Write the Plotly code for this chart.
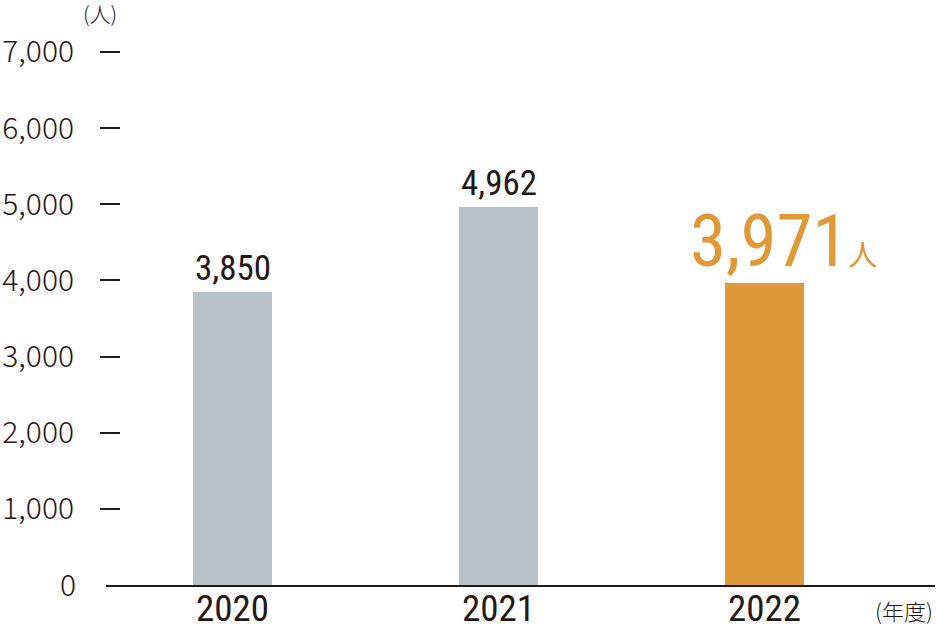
import plotly.graph_objects as go

years = [2020, 2021, 2022]
values = [3850, 4962, 3971]
value_labels = ["3,850", "4,962", "3,971"]
bar_colors = ["#b9c1c8", "#b9c1c8", "#de9835"]
ytick_vals = [1000, 2000, 3000, 4000, 5000, 6000, 7000]
ytick_text = ["1,000", "2,000", "3,000", "4,000", "5,000", "6,000", "7,000"]

TXT = "#231815"
ORANGE = "#de9835"
NUM_FONT = "Roboto Condensed, DejaVu Sans Condensed, Liberation Sans Narrow, Roboto"
JP_FONT = "Noto Sans CJK JP"

W, H = 936, 626
ml, mr, mt, mb = 106, 1, 20, 41
plot_w = W - ml - mr

fig = go.Figure()
fig.add_trace(go.Bar(
    x=years, y=values, width=0.297,
    marker=dict(color=bar_colors, line=dict(width=0)),
    hoverinfo="skip",
))

# value labels
for i, (x, v, t) in enumerate(zip(years, values, value_labels)):
    if i < 2:
        fig.add_annotation(x=x, y=v, text=t, showarrow=False, yanchor="bottom",
                           yshift=1, font=dict(family=NUM_FONT, size=35, color=TXT))
    else:
        txt = (t + "<span style='font-family:Noto Sans CJK JP;font-size:29px'>"
               "人</span>")
        fig.add_annotation(x=x, y=v, text=txt, showarrow=False, yanchor="bottom",
                           xanchor="left", xshift=-77, yshift=-3,
                           font=dict(family=NUM_FONT, size=73, color=ORANGE))

# zero label
fig.add_annotation(x=0, xref="paper", y=0, yref="y", text="0", showarrow=False,
                   xanchor="right", xshift=-28, yshift=2,
                   font=dict(family=JP_FONT, size=30, color=TXT, weight=300))
# unit labels
fig.add_annotation(x=-6 / plot_w, xref="paper", y=1, yref="paper", text="(人)", showarrow=False,
                   xanchor="center", yanchor="bottom", yshift=-10,
                   font=dict(family=JP_FONT, size=21, color=TXT, weight=300))
fig.add_annotation(x=1, xref="paper", y=0, yref="paper", text="(年度)", showarrow=False,
                   xanchor="right", yanchor="top", yshift=-7,
                   font=dict(family=JP_FONT, size=22, color=TXT, weight=300))

fig.update_layout(
    template="none",
    width=W, height=H,
    margin=dict(l=ml, r=mr, t=mt, b=mb, pad=0),
    paper_bgcolor="white", plot_bgcolor="white",
    showlegend=False, bargap=0,
    xaxis=dict(
        range=[2019.524, 2022.641], tickvals=years, ticktext=[str(y) for y in years],
        showgrid=False, zeroline=False, showline=True, linecolor=TXT, linewidth=2,
        ticks="", tickfont=dict(family=NUM_FONT, size=37, color=TXT),
        ticklabelstandoff=-10, automargin=False,
    ),
    yaxis=dict(
        range=[0, 7420], tickvals=ytick_vals, ticktext=ytick_text,
        showgrid=False, zeroline=False, showline=False,
        anchor="free", position=14 / plot_w,
        ticks="outside", ticklen=20, tickwidth=1.5, tickcolor=TXT,
        tickfont=dict(family=JP_FONT, size=30, color=TXT, weight=300),
        ticklabelstandoff=20, automargin=False,
    ),
)

fig.write_html("out.html", config={"displayModeBar": False},
               post_script="document.body.style.margin='0';")
